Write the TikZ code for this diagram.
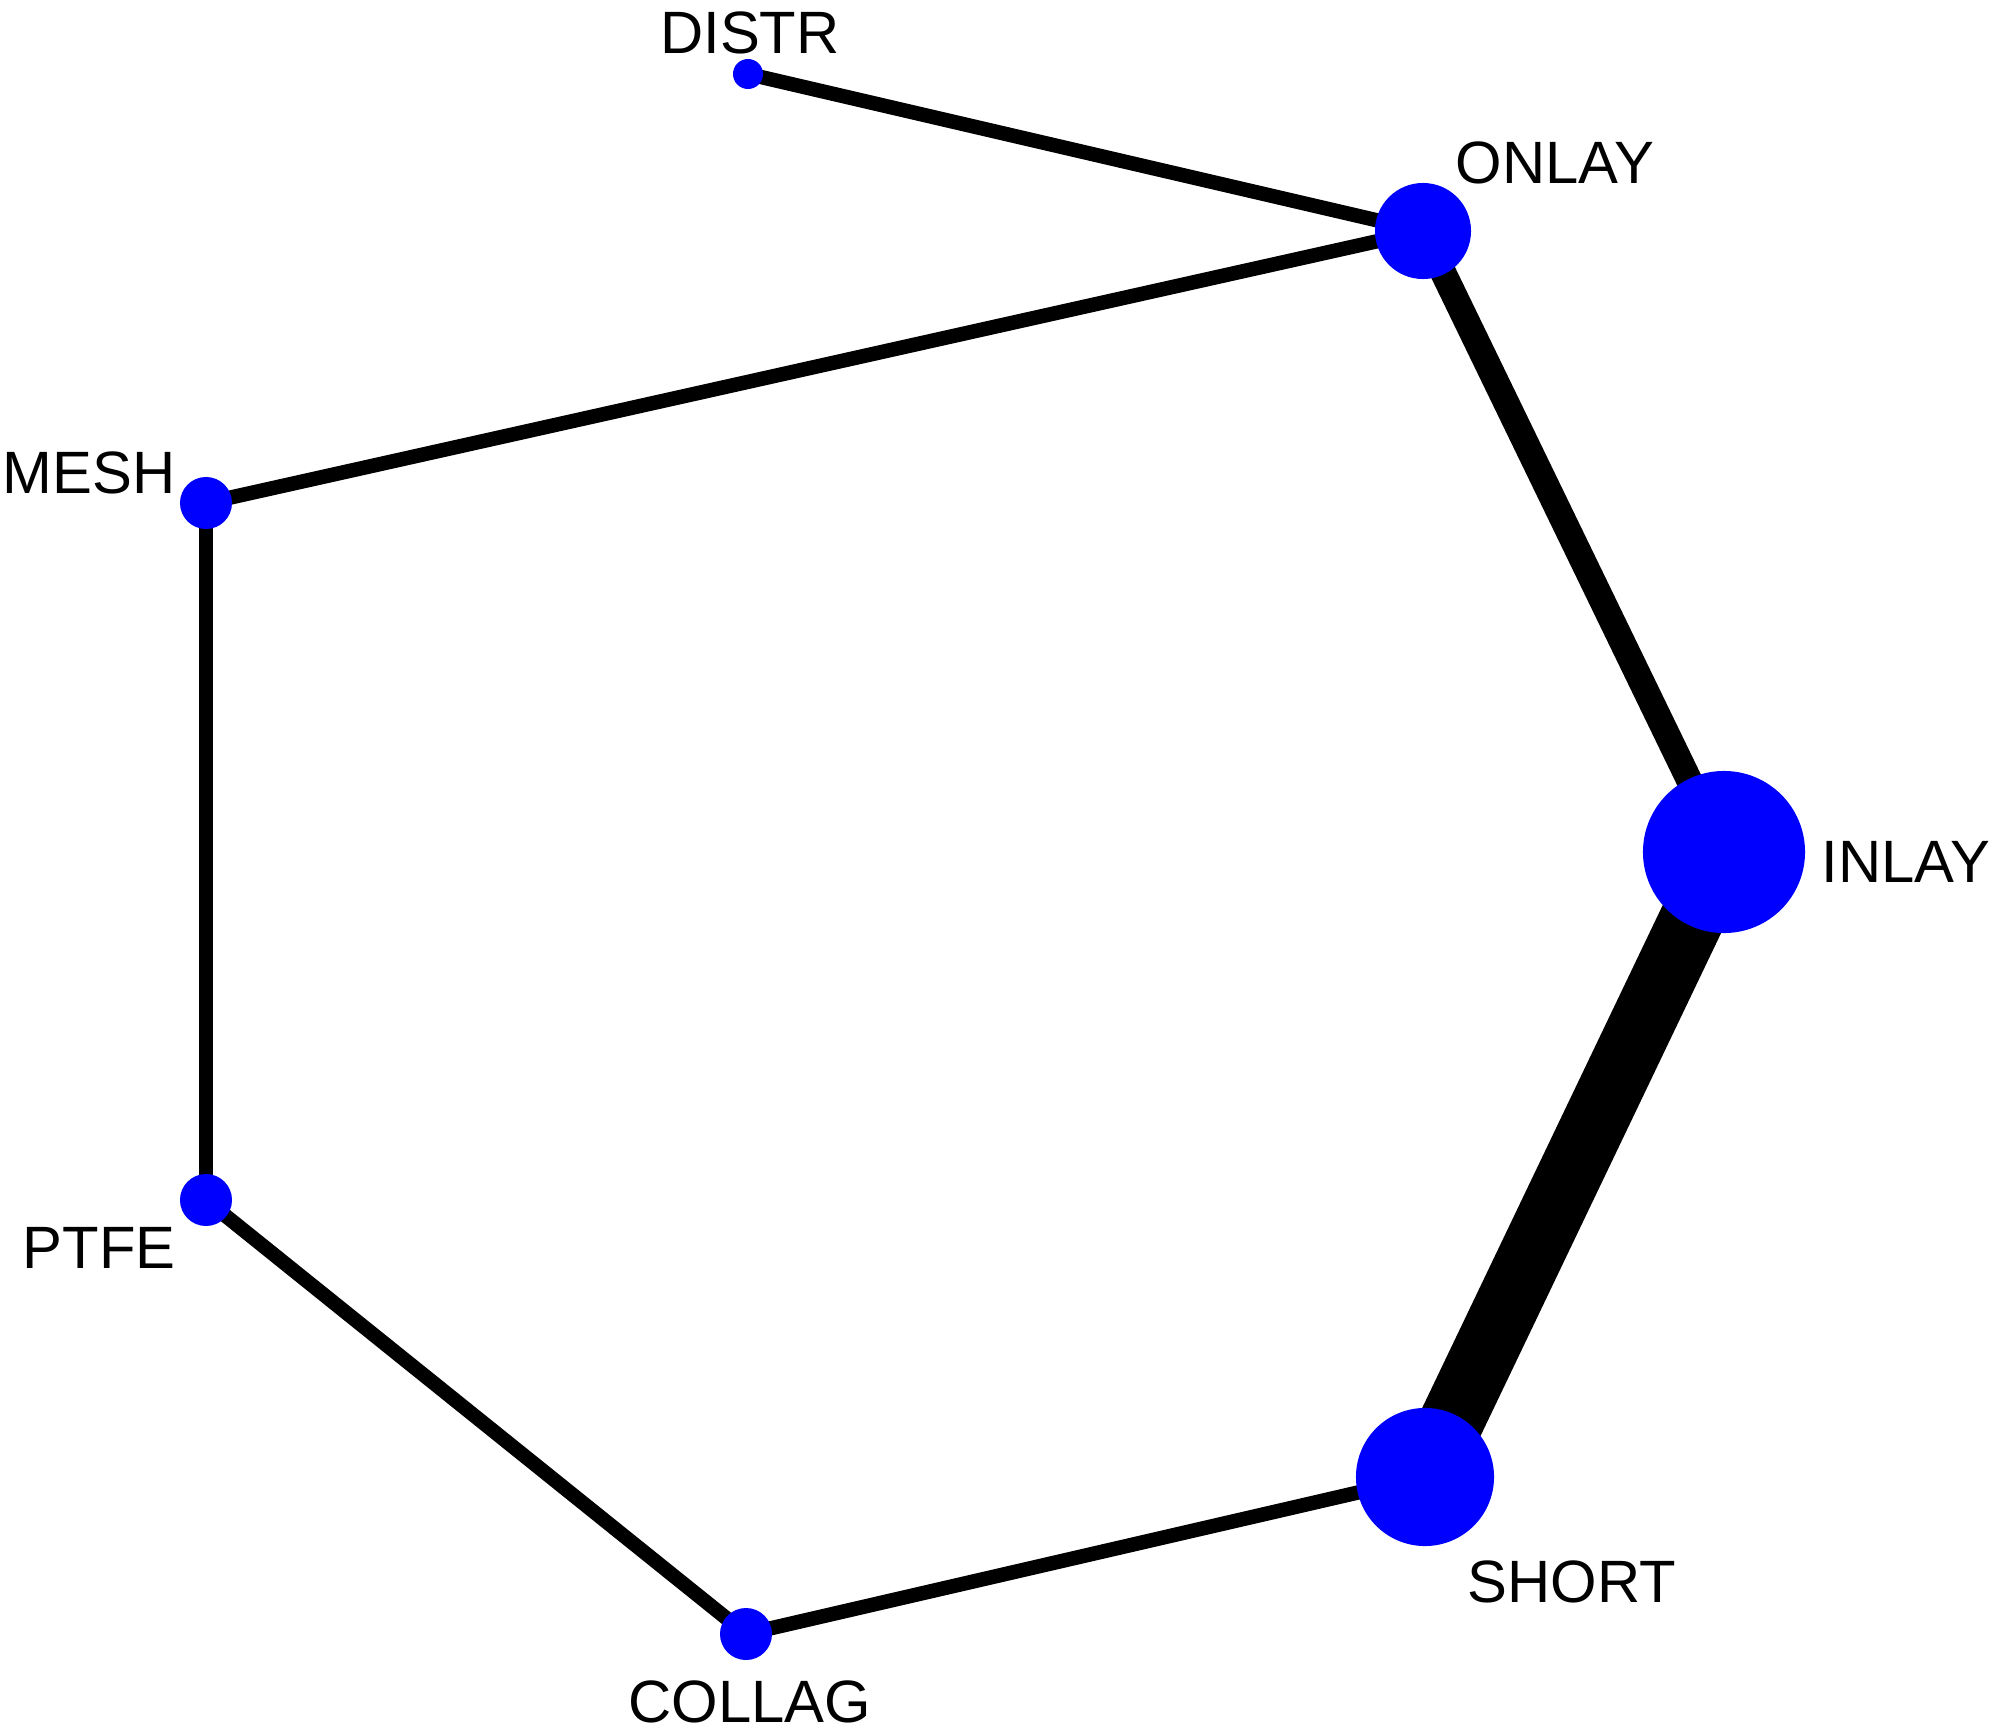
\documentclass[tikz,border=0pt]{standalone}
\usepackage{fontspec}
\setmainfont{Liberation Sans}
\usepackage{tikz}
\usetikzlibrary{backgrounds}

\tikzset{
  trt/.style={circle, fill=blue, draw=none, inner sep=0pt},
  lab/.style={anchor=base, inner sep=0pt, font=\fontsize{17pt}{20pt}\selectfont},
  thin edge/.style={line width=4.1pt},
  mid edge/.style={line width=7.4pt},
  fat edge/.style={line width=18.4pt}
}

\begin{document}
\begin{tikzpicture}[x=0.01cm,y=-0.01cm]
\useasboundingbox (0,0) rectangle (1996,1736);

% treatments
\node[trt, minimum size=0.30cm] (distr) at (748,74) {};
\node[trt, minimum size=0.96cm] (onlay) at (1423,231) {};
\node[trt, minimum size=1.62cm] (inlay) at (1724,852) {};
\node[trt, minimum size=1.38cm] (short) at (1425,1477) {};
\node[trt, minimum size=0.52cm] (collag) at (746,1634) {};
\node[trt, minimum size=0.52cm] (ptfe) at (206,1200) {};
\node[trt, minimum size=0.52cm] (mesh) at (206,503) {};

% labels
\node[lab] (distrlab) at (750,53) {DISTR};
\node[lab] (onlaylab) at (1555,183) {ONLAY};
\node[lab] (inlaylab) at (1906,882) {INLAY};
\node[lab] (shortlab) at (1572,1602) {SHORT};
\node[lab] (collaglab) at (750,1722) {COLLAG};
\node[lab] (ptfelab) at (99,1268) {PTFE};
\node[lab] (meshlab) at (89,493) {MESH};

% comparisons
\begin{pgfonlayer}{background}
\draw[thin edge] (distr.center) -- (onlay.center);
\draw[thin edge] (onlay.center) -- (mesh.center);
\draw[thin edge] (mesh.center) -- (ptfe.center);
\draw[thin edge] (ptfe.center) -- (collag.center);
\draw[thin edge] (collag.center) -- (short.center);
\draw[mid edge] (onlay.center) -- (inlay.center);
\draw[fat edge] (inlay.center) -- (short.center);
\end{pgfonlayer}
\end{tikzpicture}
\end{document}
